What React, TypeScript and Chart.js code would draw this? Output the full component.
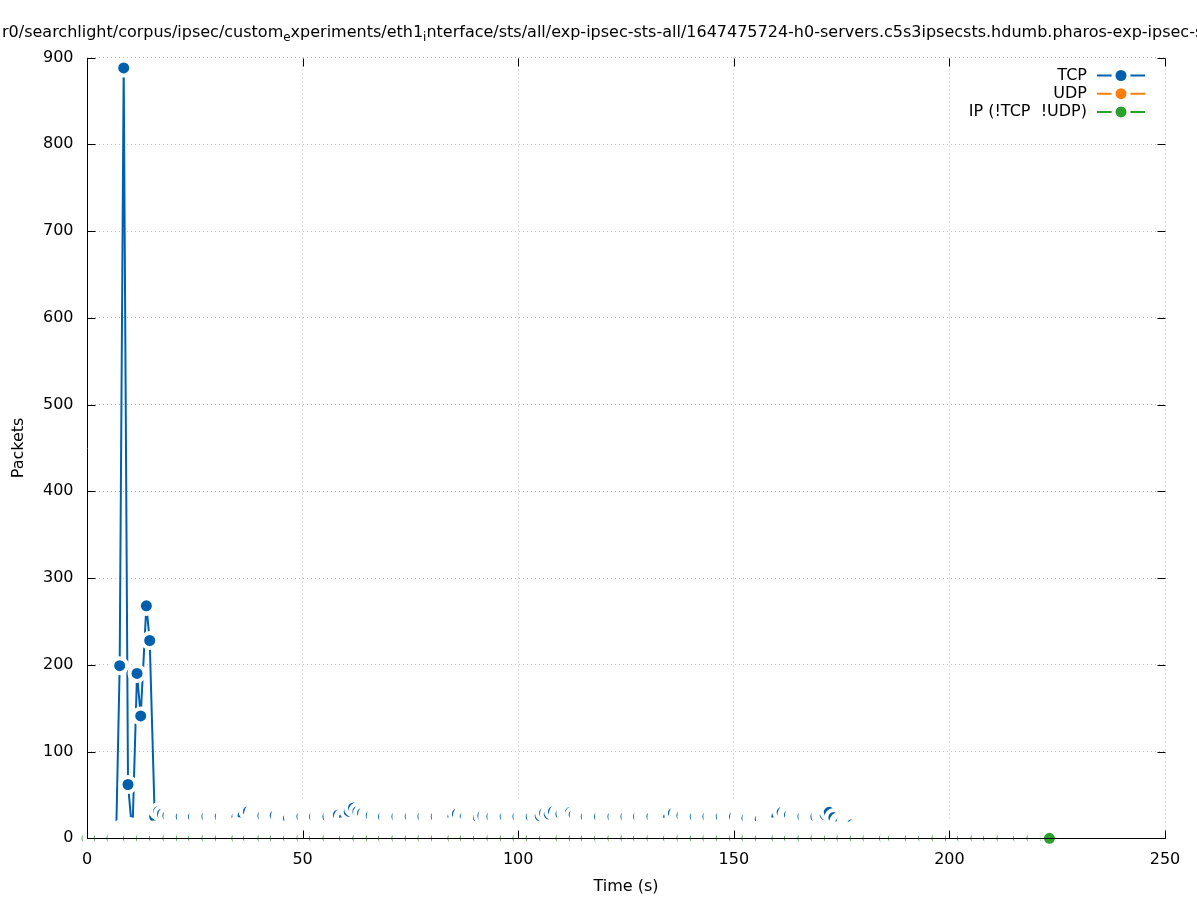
import { useEffect, useRef } from "react";
import { Chart, registerables } from "chart.js";

Chart.register(...registerables);

const FONT = '"DejaVu Sans", "Liberation Sans", sans-serif';

// Axis ticks
const X_TICKS = [0, 50, 100, 150, 200, 250];
const Y_TICKS = [0, 100, 200, 300, 400, 500, 600, 700, 800, 900];

// TCP packets per sample (time in seconds)
const TCP_TIME = [
  6.75, 7.58, 8.51, 9.51, 10.53, 11.6, 12.45, 13.77, 14.54, 15.7, 16.6, 17.5,
  18.76, 21.85, 24.7, 27.81, 30.89, 34.76, 36.2, 37.45, 40.79, 43.65,
  46.73, 49.84, 52.76, 55.87, 58.3, 59.72, 60.8, 61.8, 62.82, 63.9, 65.91,
  68.76, 71.87, 74.95, 77.9, 80.98, 84.86, 85.9, 87.71, 90.79, 91.8, 93.9,
  96.98, 99.93, 103.01, 105.1, 106.1, 107.2, 108.2, 109.9, 112.1, 112.98,
  115.77, 118.85, 121.96, 124.98, 127.9, 131.01, 134.86, 136.0, 137.96,
  141.05, 143.99, 147.08, 150.16, 153.04, 156.12, 159.99, 161.2, 162.92,
  166.03, 169.04, 171.2, 172.13, 173.2, 174.8, 177.5, 178.7, 223.2,
];
const TCP_PACKETS = [
  0, 199, 888, 62, 5, 190, 141, 268, 228, 25, 31, 28,
  26, 25, 25, 25, 25, 24, 26, 31, 26, 26,
  23, 25, 25, 25, 27, 24, 31, 35, 31, 29, 26,
  25, 25, 25, 25, 25, 25, 28, 25, 24, 26, 25,
  25, 25, 25, 26, 29, 28, 31, 28, 30, 27,
  25, 25, 25, 25, 25, 25, 24, 29, 26,
  25, 25, 25, 25, 23, 22, 25, 30, 27,
  25, 25, 27, 30, 24, 18, 16, 13, 6,
];

// UDP: no packets captured
const UDP_TIME: number[] = [];
const UDP_PACKETS: number[] = [];

// Other IP traffic (neither TCP nor UDP)
const IP_TIME = [
  0.0, 2.83, 5.77, 9.62, 12.57, 15.65, 18.76, 21.85, 24.7, 27.81, 30.89,
  34.76, 37.45, 40.79, 43.65, 46.73, 49.84, 52.76, 55.87, 59.72, 62.82,
  65.91, 68.76, 71.87, 74.95, 77.9, 80.98, 84.86, 87.71, 90.79, 93.9,
  96.98, 99.93, 103.01, 106.1, 109.9, 112.98, 115.77, 118.85, 121.96,
  124.98, 127.9, 131.01, 134.86, 137.96, 141.05, 143.99, 147.08, 150.16,
  153.04, 156.12, 159.99, 162.92, 166.03, 169.04, 172.13, 175.07, 178.15,
  181.1, 184.95, 187.04, 190.91, 194.0, 197.1, 200.19, 203.04, 206.15,
  209.07, 212.18, 216.03, 219.14, 222.22, 223.2,
];
const IP_PACKETS = [
  0, 0, 0, 0, 0, 0, 0, 0, 0, 0, 0,
  0, 0, 0, 0, 0, 0, 0, 0, 0, 0,
  0, 0, 0, 0, 0, 0, 0, 0, 0, 0,
  0, 0, 0, 0, 0, 0, 0, 0, 0,
  0, 0, 0, 0, 0, 0, 0, 0, 0,
  0, 0, 0, 0, 0, 0, 0, 0, 0,
  0, 0, 0, 0, 0, 0, 0, 0, 0,
  0, 0, 0, 0, 0, 0,
];

const SERIES_LABELS = ["TCP", "UDP", "IP (!TCP  !UDP)"];
const SERIES_COLORS = ["#0060ad", "#ff7f0e", "#2ca02c"];

// Title pieces; "true" marks a subscript
const TITLE_SEGMENTS: [string, boolean][] = [
  ["r0/searchlight/corpus/ipsec/custom", false],
  ["e", true],
  ["xperiments/eth1", false],
  ["i", true],
  [
    "nterface/sts/all/exp-ipsec-sts-all/1647475724-h0-servers.c5s3ipsecsts.hdumb.pharos-exp-ipsec-sts-all",
    false,
  ],
];

const X_TITLE = "Time (s)";
const Y_TITLE = "Packets";

const DOT_R = 5.5;
const TICK_LEN = 8;

const toPoints = (xs: number[], ys: number[]) =>
  xs.map((x, i) => ({ x, y: ys[i] }));

// White ring around each marker: wide enough to hide the previous marker
// except for a thin rim.
function haloWidth(ctx: any): number {
  if (ctx.type !== "data") return 4;
  const i = ctx.dataIndex;
  const data = ctx.dataset.data;
  const xs = ctx.chart.scales.x;
  if (!xs || i <= 0 || !data[i - 1]) return 4;
  const dx = xs.getPixelForValue(data[i].x) - xs.getPixelForValue(data[i - 1].x);
  return Math.min(17, Math.max(4, dx - 0.9));
}

const gnuplotFrame = {
  id: "gnuplotFrame",
  afterDatasetsDraw(chart: any) {
    const { ctx, chartArea: a, scales } = chart;
    const L = Math.round(a.left) + 0.5;
    const R = Math.round(a.right) + 0.5;
    const T = Math.round(a.top) + 0.5;
    const B = Math.round(a.bottom) + 0.5;
    ctx.save();
    ctx.strokeStyle = "#000";
    ctx.lineWidth = 1;
    ctx.setLineDash([]);
    ctx.beginPath();
    ctx.moveTo(L, T);
    ctx.lineTo(L, B);
    ctx.lineTo(R, B);
    Y_TICKS.forEach((v) => {
      const y = Math.round(scales.y.getPixelForValue(v)) + 0.5;
      ctx.moveTo(L, y);
      ctx.lineTo(L + TICK_LEN, y);
      ctx.moveTo(R, y);
      ctx.lineTo(R - TICK_LEN, y);
    });
    X_TICKS.forEach((v) => {
      const x = Math.round(scales.x.getPixelForValue(v)) + 0.5;
      ctx.moveTo(x, B);
      ctx.lineTo(x, B - TICK_LEN);
      ctx.moveTo(x, T);
      ctx.lineTo(x, T + TICK_LEN);
    });
    ctx.stroke();
    ctx.restore();
  },
  afterDraw(chart: any) {
    const { ctx, chartArea: a } = chart;
    ctx.save();
    ctx.fillStyle = "#000";

    // Title with subscripts
    let x = 2;
    const base = 37;
    TITLE_SEGMENTS.forEach(([text, sub]) => {
      ctx.font = sub ? `12px ${FONT}` : `16px ${FONT}`;
      ctx.textAlign = "left";
      ctx.textBaseline = "alphabetic";
      ctx.fillText(text, x, sub ? base + 4 : base);
      x += ctx.measureText(text).width;
    });

    // Axis titles
    ctx.font = `16px ${FONT}`;
    ctx.textAlign = "center";
    ctx.textBaseline = "middle";
    ctx.fillText(X_TITLE, (a.left + a.right) / 2, 887);
    ctx.save();
    ctx.translate(19, (a.top + a.bottom) / 2);
    ctx.rotate(-Math.PI / 2);
    ctx.fillText(Y_TITLE, 0, 0);
    ctx.restore();

    // Key, inside the top-right corner
    const textRight = 1087;
    const lineStart = 1097;
    const lineEnd = 1145;
    const dotX = 1121;
    SERIES_LABELS.forEach((label, i) => {
      const y = 75.5 + i * 18.2;
      ctx.fillStyle = "#000";
      ctx.textAlign = "right";
      ctx.textBaseline = "middle";
      ctx.fillText(label, textRight, y);
      ctx.strokeStyle = SERIES_COLORS[i];
      ctx.lineWidth = 2;
      ctx.beginPath();
      ctx.moveTo(lineStart, y);
      ctx.lineTo(lineEnd, y);
      ctx.stroke();
      ctx.fillStyle = "#fff";
      ctx.beginPath();
      ctx.arc(dotX, y, DOT_R + 4, 0, Math.PI * 2);
      ctx.fill();
      ctx.fillStyle = SERIES_COLORS[i];
      ctx.beginPath();
      ctx.arc(dotX, y, DOT_R, 0, Math.PI * 2);
      ctx.fill();
    });
    ctx.restore();
  },
};

export default function App() {
  const canvasRef = useRef<HTMLCanvasElement | null>(null);

  useEffect(() => {
    const canvas = canvasRef.current;
    if (!canvas) return;

    const series = [
      { pts: toPoints(TCP_TIME, TCP_PACKETS), order: 2 },
      { pts: toPoints(UDP_TIME, UDP_PACKETS), order: 1 },
      { pts: toPoints(IP_TIME, IP_PACKETS), order: 0 },
    ];

    const chart = new Chart(canvas, {
      type: "line",
      data: {
        datasets: series.map((s, i) => ({
          label: SERIES_LABELS[i],
          data: s.pts,
          order: s.order,
          borderColor: SERIES_COLORS[i],
          borderWidth: 2,
          backgroundColor: SERIES_COLORS[i],
          pointBackgroundColor: SERIES_COLORS[i],
          pointBorderColor: "#ffffff",
          pointBorderWidth: haloWidth,
          pointRadius: (ctx: any) => DOT_R + haloWidth(ctx) / 2,
          pointHoverRadius: (ctx: any) => DOT_R + haloWidth(ctx) / 2,
          tension: 0,
          fill: false,
          clip: false as any,
        })),
      },
      options: {
        responsive: false,
        devicePixelRatio: 1,
        animation: false,
        events: [],
        layout: { padding: { top: 57.5, right: 32, bottom: 0, left: 0 } },
        plugins: {
          legend: { display: false },
          tooltip: { enabled: false },
          title: { display: false },
        },
        scales: {
          x: {
            type: "linear",
            min: 0,
            max: 250,
            afterFit: (scale: any) => {
              scale.height = 61.7;
            },
            ticks: {
              stepSize: 50,
              maxRotation: 0,
              autoSkip: false,
              color: "#000",
              padding: 12,
              z: 1,
              font: { family: FONT, size: 16 },
            },
            grid: { color: "#c4c4c4", lineWidth: 1, drawTicks: false },
            border: { display: false, dash: [1, 3] },
          },
          y: {
            type: "linear",
            min: 0,
            max: 900,
            afterFit: (scale: any) => {
              scale.width = 87;
            },
            ticks: {
              stepSize: 100,
              color: "#000",
              padding: 13.5,
              z: 1,
              font: { family: FONT, size: 16 },
            },
            grid: { color: "#c4c4c4", lineWidth: 1, drawTicks: false },
            border: { display: false, dash: [1, 3] },
          },
        },
      },
      plugins: [gnuplotFrame],
    });

    return () => chart.destroy();
  }, []);

  return (
    <div style={{ position: "absolute", left: 0, top: 0, width: 1197, height: 900 }}>
      <canvas ref={canvasRef} width={1197} height={900} />
    </div>
  );
}
